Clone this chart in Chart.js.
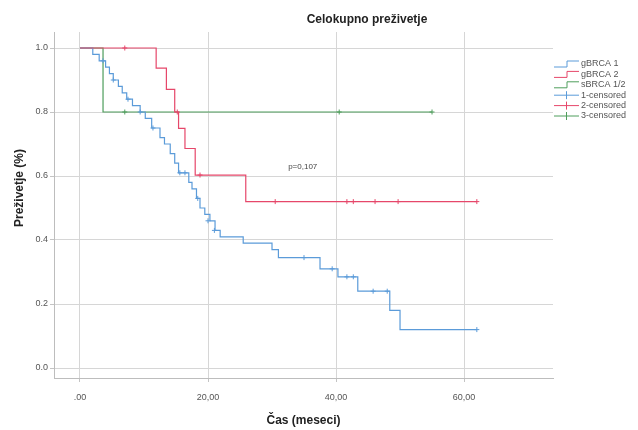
<!DOCTYPE html>
<html>
<head>
<meta charset="utf-8">
<script src="https://cdn.jsdelivr.net/npm/chart.js@4.4.1/dist/chart.umd.min.js"></script>
<style>
  html, body { margin: 0; padding: 0; background: #fff; }
  #wrap { width: 638px; height: 430px; }
</style>
</head>
<body>
<div id="wrap"><canvas id="km"></canvas></div>
<script>
// podatki (Kaplan-Meier, odčitano s slike)
const g1Cas = [0, 2, 3, 4, 4.6, 5.2, 6, 6.6, 7.3, 8.2, 9.4, 10.2, 11.2, 12.5, 13.2, 14.1, 14.8, 15.4, 17, 17.5, 18.2, 18.75, 19.5, 20.3, 21.1, 21.9, 25.5, 30, 31, 37.5, 40.3, 43.4, 48.4, 50, 62];
const g1Prez = [1, 0.98, 0.96, 0.94, 0.92, 0.90, 0.88, 0.86, 0.84, 0.82, 0.80, 0.78, 0.75, 0.72, 0.70, 0.67, 0.64, 0.61, 0.58, 0.56, 0.53, 0.50, 0.48, 0.46, 0.43, 0.41, 0.39, 0.37, 0.345, 0.31, 0.285, 0.24, 0.18, 0.12, 0.12];
const g2Cas = [0, 11.9, 13.5, 14.8, 15.4, 16.4, 18.0, 25.9, 62];
const g2Prez = [1, 0.937, 0.871, 0.80, 0.749, 0.686, 0.603, 0.52, 0.52];
const sCas = [0, 3.6, 55];
const sPrez = [1, 0.80, 0.80];

const g1CenzCas = [3.6, 5.2, 7.5, 9.4, 11.4, 15.6, 16.4, 18.4, 20, 21, 35, 39.4, 41.7, 42.7, 45.8, 48, 62];
const g1CenzPrez = [0.96, 0.90, 0.84, 0.80, 0.75, 0.61, 0.61, 0.53, 0.46, 0.43, 0.345, 0.31, 0.285, 0.285, 0.24, 0.24, 0.12];
const g2CenzCas = [7, 15.2, 18.75, 30.5, 41.7, 42.7, 46.1, 49.7, 62];
const g2CenzPrez = [1, 0.80, 0.603, 0.52, 0.52, 0.52, 0.52, 0.52, 0.52];
const sCenzCas = [7, 40.5, 55];
const sCenzPrez = [0.80, 0.80, 0.80];

const xTicks = [0, 20, 40, 60];
const xTickLabels = [".00", "20,00", "40,00", "60,00"];
const yTicks = [0, 0.2, 0.4, 0.6, 0.8, 1.0];

const modra = "#5b9bd9";
const rdeca = "#e6476a";
const zelena = "#4f9e5c";

function tocke(cas, prez) {
  return cas.map((c, i) => ({ x: c, y: prez[i] }));
}

function krivulja(label, cas, prez, barva, order) {
  return {
    label, data: tocke(cas, prez), borderColor: barva, borderWidth: 1.2,
    stepped: "before", pointRadius: 0, fill: false, order, legendType: "step"
  };
}

function cenzura(label, cas, prez, barva, order) {
  return {
    label, data: tocke(cas, prez), showLine: false, pointStyle: "cross",
    pointRadius: 2.5, pointBorderColor: barva, pointBorderWidth: 1,
    borderColor: barva, order, legendType: "cross"
  };
}

// naslov, p-vrednost, naslov osi y in legenda
const risbaBesedil = {
  id: "risbaBesedil",
  afterDraw(chart) {
    const ctx = chart.ctx;
    const x = chart.scales.x, y = chart.scales.y;
    ctx.save();
    ctx.fillStyle = "#222";
    ctx.font = "bold 12px 'Liberation Sans', Arial, sans-serif";
    ctx.textAlign = "center";
    ctx.textBaseline = "middle";
    ctx.fillText("Celokupno preživetje", 367, 20);

    ctx.font = "8px 'Liberation Sans', Arial, sans-serif";
    ctx.fillStyle = "#444";
    ctx.fillText("p=0,107", x.getPixelForValue(34.8), y.getPixelForValue(0.628));

    ctx.translate(20, 188);
    ctx.rotate(-Math.PI / 2);
    ctx.font = "bold 12px 'Liberation Sans', Arial, sans-serif";
    ctx.fillStyle = "#222";
    ctx.fillText("Preživetje (%)", 0, 0);
    ctx.restore();

    // legenda
    ctx.save();
    ctx.font = "9px 'Liberation Sans', Arial, sans-serif";
    ctx.textAlign = "left";
    ctx.textBaseline = "middle";
    chart.data.datasets.forEach((ds, i) => {
      const ly = 64 + i * 10.4;
      ctx.strokeStyle = ds.borderColor;
      ctx.lineWidth = 1;
      ctx.beginPath();
      if (ds.legendType === "step") {
        ctx.moveTo(554, ly + 3); ctx.lineTo(567, ly + 3);
        ctx.lineTo(567, ly - 3); ctx.lineTo(579, ly - 3);
      } else {
        ctx.moveTo(554, ly); ctx.lineTo(579, ly);
        ctx.moveTo(566.5, ly - 4); ctx.lineTo(566.5, ly + 4);
      }
      ctx.stroke();
      ctx.fillStyle = "#555";
      ctx.fillText(ds.label, 581, ly);
    });
    ctx.restore();
  }
};

new Chart(document.getElementById("km"), {
  type: "line",
  data: {
    datasets: [
      krivulja("gBRCA 1", g1Cas, g1Prez, modra, 2),
      krivulja("gBRCA 2", g2Cas, g2Prez, rdeca, 1),
      krivulja("sBRCA 1/2", sCas, sPrez, zelena, 3),
      cenzura("1-censored", g1CenzCas, g1CenzPrez, modra, 0),
      cenzura("2-censored", g2CenzCas, g2CenzPrez, rdeca, 0),
      cenzura("3-censored", sCenzCas, sCenzPrez, zelena, 0)
    ]
  },
  options: {
    responsive: true,
    maintainAspectRatio: false,
    animation: false,
    layout: { padding: { top: 32, right: 85, left: 0, bottom: 0 } },
    plugins: {
      legend: { display: false },
      tooltip: { enabled: false }
    },
    scales: {
      x: {
        type: "linear",
        min: -4.06,
        max: 73.9,
        afterFit: s => { s.height = 52; },
        afterBuildTicks: s => { s.ticks = xTicks.map(v => ({ value: v })); },
        grid: { color: "#d6d6d6", tickLength: 4, tickColor: "#c4c4c4" },
        border: { color: "#bdbdbd" },
        ticks: {
          color: "#555",
          font: { size: 9, family: "'Liberation Sans', Arial, sans-serif" },
          padding: 10,
          maxRotation: 0,
          callback: v => xTickLabels[xTicks.indexOf(v)]
        },
        title: {
          display: true,
          text: "Čas (meseci)",
          color: "#222",
          font: { size: 12, weight: "bold", family: "'Liberation Sans', Arial, sans-serif" },
          padding: { top: 0, bottom: 2 }
        }
      },
      y: {
        min: -0.03125,
        max: 1.05,
        afterFit: s => { s.width = 54; },
        afterBuildTicks: s => { s.ticks = yTicks.map(v => ({ value: v })); },
        grid: { color: "#d6d6d6", tickLength: 4, tickColor: "#c4c4c4" },
        border: { color: "#bdbdbd" },
        ticks: {
          color: "#555",
          font: { size: 9, family: "'Liberation Sans', Arial, sans-serif" },
          padding: 2,
          callback: v => v.toFixed(1)
        }
      }
    }
  },
  plugins: [risbaBesedil]
});
</script>
</body>
</html>
